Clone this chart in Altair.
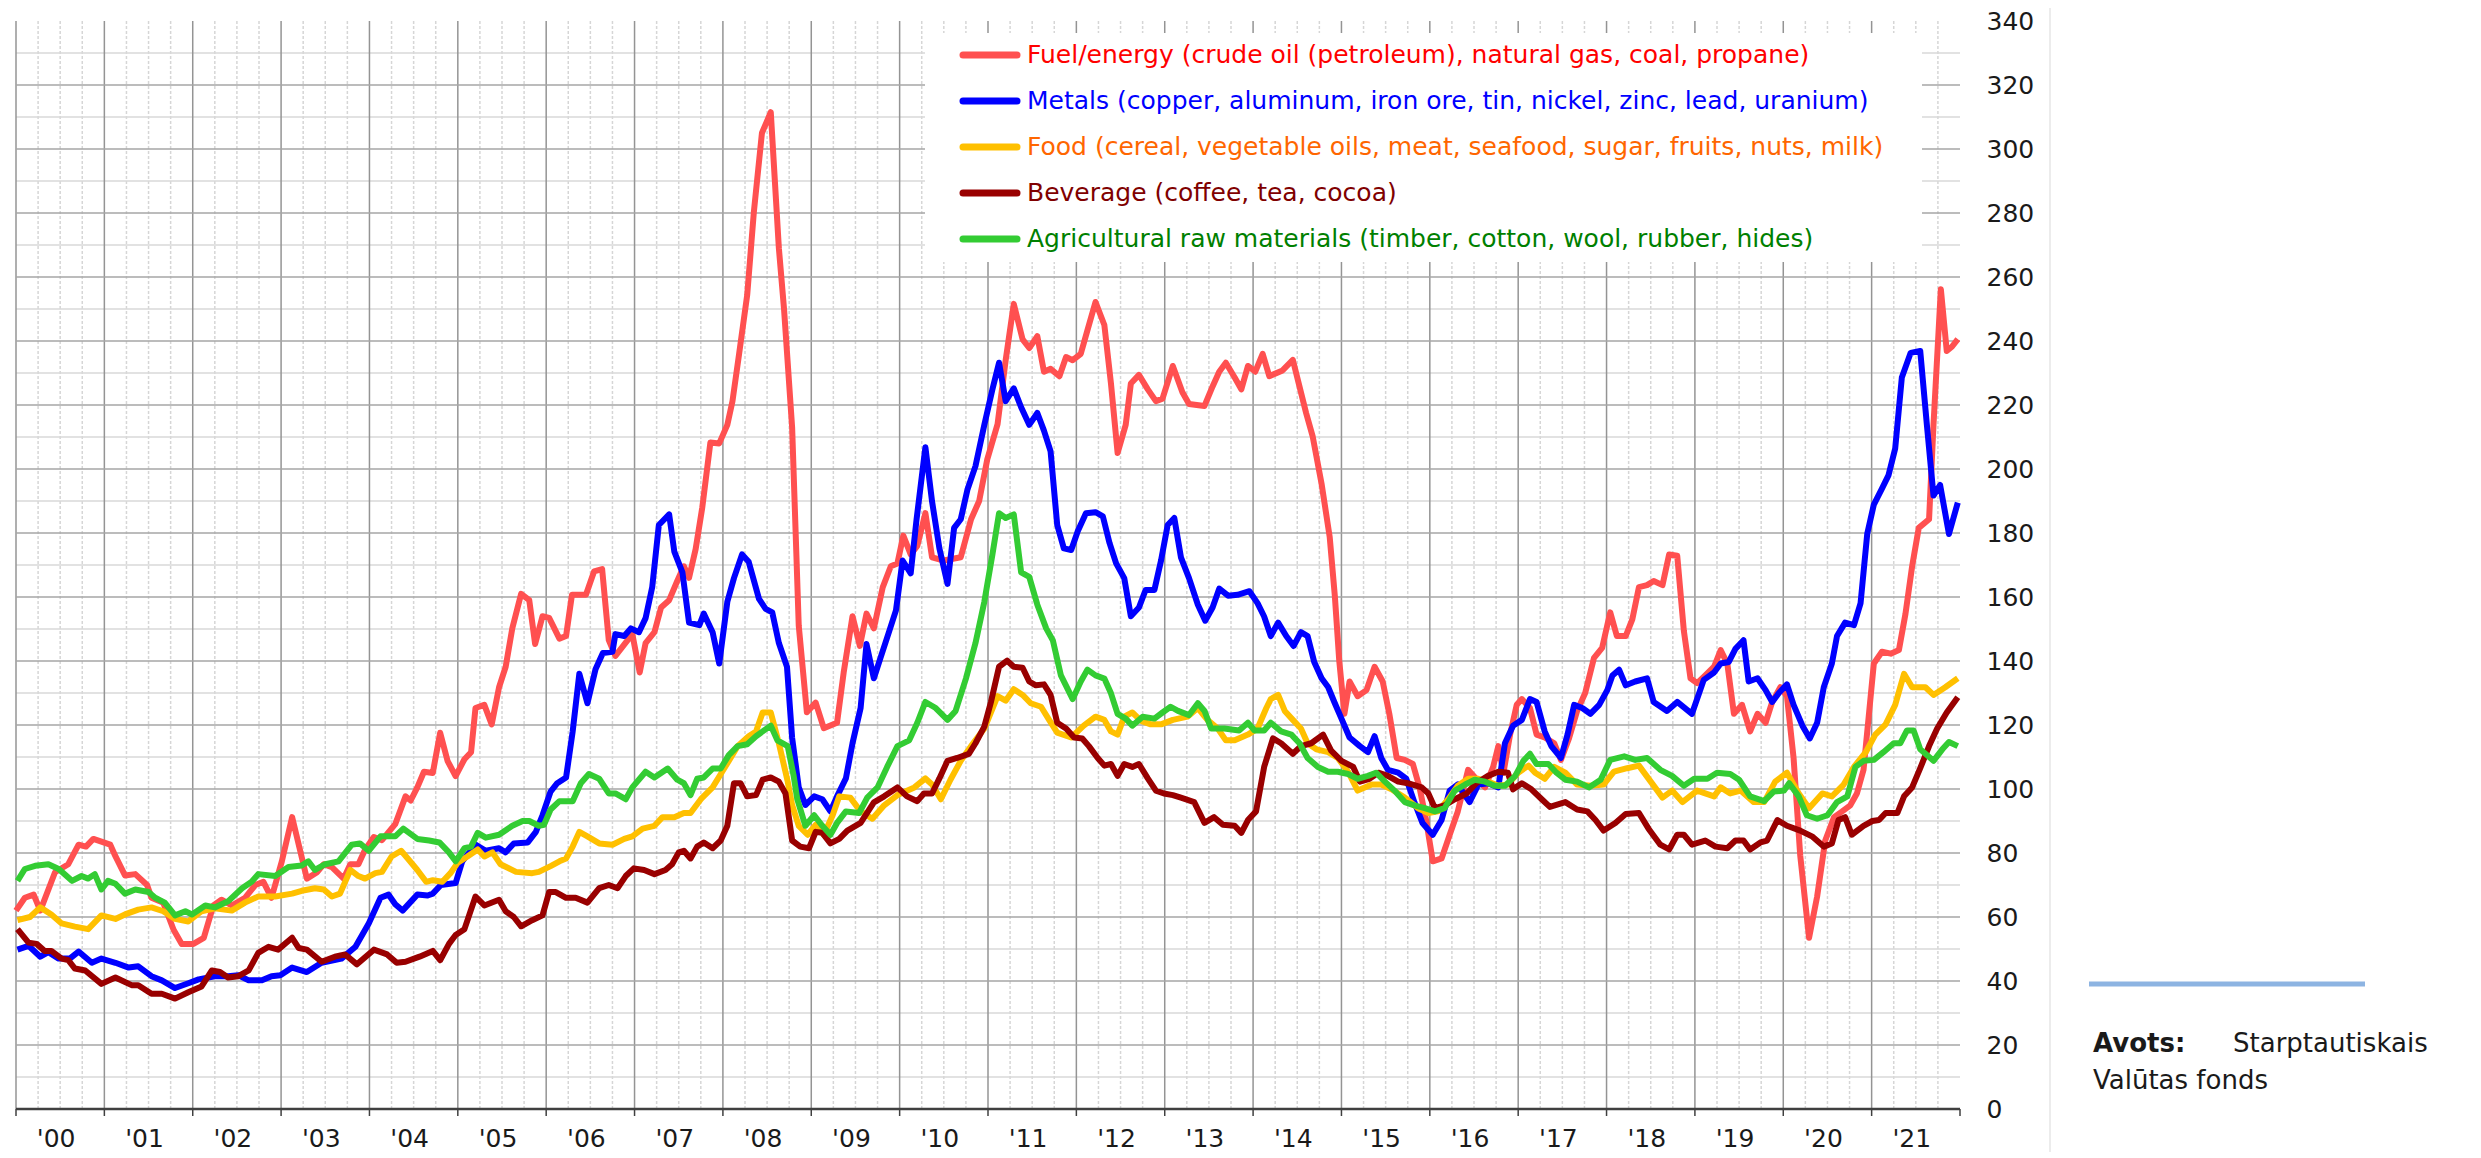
import altair as alt
import pandas as pd

# ---------------- data (month index: 0 = Jan 2000) ----------------
fuel_m = [0,1.2,2.4,3.3,5.3,7.1,8.5,9.5,10.5,12.8,13.5,14.8,16.2,17.8,18.4,20,21.4,22.5,24.1,25.5,26.8,27.9,29.3,31.1,32.5,33.6,34.7,36.1,37.5,39.5,40.9,41.8,42.9,44.5,45.4,46.5,47.4,48.6,49.7,51.5,52.9,53.6,54.5,55.4,56.6,57.6,58.6,59.7,60.9,61.8,62.4,63.6,64.6,65.6,66.5,67.4,68.6,69.7,70.5,71.5,72.4,73.8,74.7,75.5,77.4,78.5,79.6,80.5,81.4,83.7,84.7,85.5,86.7,87.6,88.7,89.8,90.7,91.4,92.3,93.2,94.3,95.5,96.6,97.3,98.2,99.3,100.2,101.3,102.5,103.6,104.3,105.4,106.3,107.4,108.6,109.7,111.5,112.4,113.6,114.6,115.5,116.5,117.7,118.8,119.7,120.5,121.5,122.4,123.5,124.4,126,128.3,129.7,130.8,131.9,133.3,134.4,135.5,136.7,137.6,138.7,139.6,140.5,141.7,142.6,143.5,144.6,145.5,146.6,147.8,148.7,149.6,150.7,151.4,152.5,153.7,154.8,155.7,157.1,158.4,159.3,161.4,162.5,163.4,164.3,165.5,166.4,167.3,168.3,169.3,170.2,172,173.4,174.3,175.2,176.1,177.3,178.4,179.1,179.7,180.4,181.1,182.2,183.4,184.5,185.6,186.5,187.5,188.6,189.7,190.6,191.5,192.4,193.6,194.7,195.8,197.2,198.3,199.5,200.6,201.3,202,202.9,203.8,204.5,205.6,206.5,207.6,208.9,209.8,210.9,212,213.1,214.3,215.4,216.5,217.4,218.6,219.5,220.4,221.5,222.4,223.6,224.5,225.6,226.5,227.4,228.3,229.4,230.6,231.5,232.4,233.3,234.4,235.5,236.5,237.6,238.5,239.6,240.5,241.4,242.3,243.5,244.6,245.7,246.9,248,249.1,250,250.9,251.6,252.3,253.4,254.6,255.7,256.6,257.5,258.4,259.8,260.4,261.4,262.2,262.9,263.7]
fuel_v = [62,66,67,62,74,76.5,82.6,82,84.4,82.6,79,73,73.4,70,66,64.5,56,51.6,51.6,53.5,63.6,65.4,63.6,66,70,71,66,77.4,91.2,72,74,76.5,75.6,72,76.5,76.5,81,85,84,89,97.7,96.4,100.5,105.4,105,117.6,108.8,104,109.3,111.5,125.3,126.3,120.2,131.8,138.2,150.2,161,159,145.3,154,153.5,147,147.8,160.7,160.7,168,168.7,146.5,141.6,148.4,136.4,145.6,149,156.7,159,165,169.6,166,175,188,208.3,208,213.8,221.2,236,254.4,280.2,305,311.5,269,250,213,151,124,127,119,120.7,136.4,154,144.7,154.8,150.2,163,169.6,170.5,179.2,173.3,176,186.2,172.4,171.4,172.4,184.3,190,203,214,234,251.6,240.5,237.8,241.5,230.4,231.3,229,235,234,236,243.3,252.2,245,226.7,205,213.8,226.7,229.4,224.9,221.2,222,232.2,224,220.3,219.7,225.8,230.4,233.2,228.6,224.9,232.2,230.4,236,229,230.8,234.1,225.8,217.5,210.1,195.4,178.8,160.4,140.1,123.5,133.6,129,130.9,138.2,133.6,123.5,109.7,109.1,107.8,100.5,90.3,77.4,78.3,85.7,93,106,103.2,100.5,106.9,113.4,105.1,117,126.3,128.1,125.3,117,116.1,114.3,109.1,115.8,124.4,130,141,144.1,155.2,147.8,147.8,153,163.1,163.7,165,163.7,173.3,172.9,149.4,134.6,133.1,135.5,138.2,143.4,139.2,123.5,126.3,118,123.5,120.7,127.2,131.8,129,109.7,79.3,53.5,66.4,83.9,91.2,93,94.9,98.6,106,122.6,139.2,142.9,142.3,143.4,154.8,169.6,181.6,184.3,213.8,256.2,236.9,238.2,240.6]

metals_m = [0.2,1.7,3.3,4.4,5.8,7.3,8.5,10.3,11.6,13.5,15.3,16.6,18.4,19.8,21.6,23.4,24.8,27,28.8,30.2,31.6,33.4,34.7,35.9,37.5,39.5,41.5,44.2,46.1,47.9,49.5,50.6,51.5,52.5,54.5,55.9,56.6,57.7,59.7,60.6,62.4,63.8,65.6,66.5,67.6,69.5,70.6,71.5,72.6,73.5,74.7,75.6,76.5,77.6,78.7,79.7,81,81.4,82.6,83.5,84.6,85.5,86.4,87.3,88.7,89.4,90.5,91.4,92.8,93.4,94.6,95.5,96.6,97.5,98.6,99.5,100.9,101.8,102.7,103.6,104.7,105.4,106.3,107.2,108.4,109.5,110.6,111.5,112.7,113.6,114.7,115.5,116.5,117.4,118.6,119.5,120.4,121.5,122.3,123.5,124.4,125.4,126.5,127.4,128.3,129.2,130.3,131.5,132.6,133.5,134.4,135.5,136.5,137.6,138.7,139.6,140.5,141.4,142.3,143.3,144.2,145.3,146.6,147.6,148.5,149.4,150.5,151.4,152.5,153.4,154.6,155.5,156.4,157.3,158.2,159.3,160.5,161.5,162.5,163.4,164.6,165.9,167.5,168.6,169.5,170.4,171.4,172.5,173.5,174.5,175.4,176.3,177.3,178.2,179.1,180,181.1,182.5,183.6,184.5,185.4,186.3,187.7,188.8,189.9,191,192.4,193.6,194.7,195.8,197.4,198.6,199.9,201.3,202.2,203.3,204.5,205.6,206.5,207.6,208.5,209.8,210.7,211.6,212.7,213.8,215,216.1,216.8,217.7,218.6,219.9,221.5,222.4,224.2,225.6,227.6,229.2,230.6,231.5,232.6,233.5,234.6,235.3,236.5,237.6,238.5,239.4,240.5,241.4,242.6,243.6,244.6,245.5,246.6,247.3,248.4,249.6,250.5,251.4,252.3,253.4,254.3,255.2,256.1,257.3,258.6,259.5,260.4,261.3,262.5,263.7]
metals_v = [49.8,51,47.6,49,47,47,49.2,45.7,47,45.7,44.2,44.6,41.5,40.2,37.8,39.3,40.5,41.5,41.5,41.8,40.2,40.2,41.5,41.8,44.2,42.8,45.7,47,50.7,58,66,67,64,62,67,66.7,67.3,70,70.6,77.4,82.6,80.7,81.5,80.2,83,83.3,86.6,91.8,99.2,101.8,103.6,118,136,126.8,137.4,142.5,142.9,148.4,147.8,150.2,149,153.4,163.1,182.5,185.8,174.2,167.7,152,151.2,154.8,149,139.2,158.5,165.9,173.3,171,159.4,156.3,155.2,145.6,138.2,116,100.5,95,97.7,96.8,93,97.7,103.3,114.3,125.3,145.3,134.6,141,149.4,155.8,171.4,167.4,184.3,206.8,189.9,175.2,164.1,181.6,184.3,193.5,200.9,213.8,224.9,233.2,221.2,225.2,219.3,213.8,217.5,212,205.5,182.5,175.2,174.7,180.6,186.2,186.5,185.2,176.9,170.5,165.9,154,156.7,162.2,162.2,171.4,182.5,184.7,172.4,165.9,157.6,152.6,156.7,162.6,160.4,160.7,161.8,158.1,153.9,147.8,152,147.8,144.7,149,147.8,139.7,134.6,131.8,126.8,122,116.1,113.4,111.5,116.5,109.7,106,105.1,103.2,95.9,89.4,85.7,90.3,99.5,101.4,95.9,101.4,101.8,100.5,114.3,119.8,121.6,128.1,127.2,118,113.4,109.7,117,126.3,125.3,123.5,126.3,130.9,135.5,137.3,132.4,133.6,134.6,127.2,124.4,127.2,123.5,134.1,136.4,139.2,139.7,143.8,146.5,133.6,134.6,130.9,127.2,130,132.7,126.3,119.8,115.8,120.7,131.8,139.2,147.8,152,151.2,158.1,179.7,188.9,193.9,198.1,206.4,228.6,236.3,236.9,213.8,191.7,195,179.7,189.5]

food_m = [0.2,1.9,3.3,4.8,6.2,8,9.8,11.6,13.5,14.8,16.6,18.4,20,21.6,23.4,25.2,27,29.3,31.1,32.9,35.2,37.5,38.8,40.6,41.8,42.9,44,45.4,46.5,47.4,48.8,49.7,51,52.3,53.2,54.5,55.7,56.6,57.9,59,60,61.3,62.7,63.6,64.7,65.8,67.9,70.1,71,72.6,73.8,74.7,75.6,76.5,77.6,79.2,81,82.6,83.7,85.1,86.7,87.8,89.4,90.7,91.6,93,94.6,95.9,96.8,98,99.5,100.5,101.4,102.5,103.6,104.8,105.4,106.3,107.5,108.6,109.7,110.9,111.8,113.3,114.7,116.3,117.9,119.7,122,123.5,124.4,125.6,126.9,128.3,129.7,131.5,133.3,134.4,135.5,136.7,137.8,139.2,140.3,141.4,143.3,145,146.6,147.8,148.7,149.6,150.5,151.6,152.8,154.1,155.5,157.1,159.1,160.5,161.8,163.2,164.3,165.5,167.3,168.6,169.8,170.4,171.4,172.3,173.4,174.5,175.4,176.6,178.2,179.5,180.9,182.2,184.1,185.4,186.8,188.6,190.4,191.8,193.1,194.5,195.8,197.2,198.6,199.9,201.3,202.6,204,205.4,206.3,207.6,208.9,210.4,212,213.8,215.6,217,218.8,220.4,222,223.6,224.9,226.3,228.3,230.6,231.5,232.8,234.2,236,237.4,238.9,240.5,242.1,243.5,245.3,246.6,248.2,249.6,251.2,252.5,253.9,255.2,256.4,257.5,259.3,260.4,262,263.7]
food_v = [59,60,63,60.8,58,57,56.2,60.5,59.4,60.8,62.3,63,61.8,59.4,58.6,61.8,62.7,62,64.5,66.4,66.4,67.3,68.2,69,68.6,66.4,67.3,74.7,72.8,72,73.7,74.1,78.9,80.7,78.3,74.7,71,71.5,71,73.7,77,78.9,81.1,78.9,80.2,76.5,74.1,73.7,74.1,75.9,77.4,78.3,82,86.6,85.2,83,82.6,84.4,85.2,87.6,88.5,91.2,91.2,92.5,92.5,96.8,100.5,105.4,108.8,113.4,116.5,118,123.9,123.9,114.3,102.3,95,88.5,85.7,88.8,85.7,91.8,97.7,97.3,93,90.7,94.9,98.1,100.5,103.3,101.4,96.8,102.9,108.8,113.4,118.9,129,127.6,131.2,129.4,126.8,125.7,121.6,117.6,116.1,119.8,122.6,121.6,118,117,122.6,123.9,121.3,120.2,120.2,121.6,122.6,125.3,121.6,118.9,115.2,115.2,117,118.9,125.3,128.1,129.4,124.4,121.6,118.9,114.3,112.4,111.5,109.7,105.4,99.5,101.4,101.4,99.9,97.3,94,92.5,93,96.8,101,103.2,103.2,102.3,101,101.4,105.1,107.3,105.1,103.2,106.9,105.1,101.4,101,101.4,105.4,106.5,107.3,102.3,97.3,99.5,95.9,99.5,97.7,100.5,98.6,99.5,95.9,95.9,102.3,105.1,98.6,94,98.6,97.7,101.4,106.9,111.5,117,120.2,126.3,136,131.8,131.8,129.4,131.8,134.6]

bev_m = [0.2,1.7,2.8,3.9,4.8,6.2,7.1,8,9.4,11.6,13.5,15.7,16.6,18.4,19.8,21.6,23.4,25.2,26.6,27.7,28.8,30.2,31.6,32.9,34.3,35.6,37.5,38.4,39.5,41.5,43.3,44.7,46.3,48.6,50.4,51.7,52.9,54.8,56.6,57.6,58.8,59.7,60.9,62.4,63.6,65.6,66.5,67.6,68.6,70.1,71.5,72.4,73.3,74.7,76,77.6,79.2,80.5,81.7,82.8,83.9,85.3,86.7,88.2,89.1,90,90.7,91.6,92.5,93.4,94.6,95.7,96.6,97.5,98.4,99.3,100.5,101.4,102.5,103.6,104.5,105.4,106.5,107.7,108.6,109.5,110.6,111.8,112.9,114.7,116.5,117.9,119.7,121,122.4,123.3,124.4,125.4,126.5,127.8,129.4,130.3,131.5,132.4,133.5,134.6,135.5,136.7,137.6,138.5,139.6,140.5,141.4,142.6,143.7,144.8,145.7,146.9,147.8,148.7,149.6,150.5,151.6,152.5,153.7,154.8,155.9,157.1,158.2,160,161.4,162.7,163.9,165.5,166.4,167.3,168.4,169.5,170.7,171.8,173.4,174.5,175.9,177.5,178.6,180,181.6,182.5,183.8,185,186.3,187.7,189,190.9,191.8,192.7,194,195.4,197,198.3,199.9,201.3,202.6,203.3,204.5,205.8,207.2,208.3,210.4,212,213.4,214.5,215.6,217.2,218.6,220.4,221.7,223.3,224.5,225.6,226.5,227.6,229.4,230.8,232.4,233.5,234.6,235.5,236.9,237.8,239.2,240.5,242.3,243.9,245.5,246.6,247.5,248.4,249.3,250.9,252.1,253,253.9,255.5,256.4,257.5,258.6,259.8,260.9,262.2,263.7]
bev_v = [56.2,52,51.6,49.4,49.4,47,46.5,43.9,43.3,39.1,41.1,38.7,38.7,36,36,34.5,36.5,38.3,43.3,42.8,41.1,41.5,43.3,48.8,50.7,49.8,53.5,50.3,49.8,46,47.6,48.3,45.2,49.8,48.3,45.7,46,47.6,49.4,46.5,51.6,54.4,56.2,66.4,63.6,65.4,61.8,60,57.1,59,60.5,67.8,67.8,66,66,64.5,69,70,69,72.8,75.2,74.7,73.4,74.7,76.5,80.2,80.7,78.3,82,83.3,81.5,83.9,88.5,101.8,101.8,97.7,98.1,102.9,103.6,102.3,98.6,83.9,82,81.5,86.6,86.3,83,84.4,87,89.4,95.8,97.7,100.5,97.7,96.2,98.6,98.6,103.3,108.8,109.7,111,114.3,119.5,127.2,138.2,140.1,138.2,137.9,133.6,132.4,132.7,129.4,120.7,118.9,116.1,115.8,113.4,109.7,107.3,107.8,104.1,107.8,106.9,107.8,103.3,99.5,98.6,98.1,97.3,95.9,89.4,91.2,88.8,88.5,86.3,90.3,93,106.9,115.8,114.3,111,113.4,114.3,117,112,108.8,106.9,102.3,103.2,105.1,104.1,102.3,101.8,100.5,98.6,94,94.9,96.8,98.6,101.8,104.1,105.4,105.1,99.9,101.8,99.9,96.8,94.4,95.9,93.6,93,90.3,87,89.4,92.2,92.5,87.6,82.6,81.1,85.7,85.7,82.6,83.9,82,81.5,83.9,83.9,81.1,83.3,83.9,90.3,88.5,87,85.2,82,83,90.3,91.2,85.7,88.5,90,90.3,92.5,92.5,97.7,100.5,106.5,113.4,118.9,123.9,128.7]

agri_m = [0.2,1.2,2.6,4.4,5.8,7.6,8.9,9.8,10.7,11.6,12.5,13.5,14.8,16.2,18,18.9,20.2,21.6,23,23.9,25.7,27,28.8,30.7,32,32.9,35.2,37,38.8,39.7,40.6,42,43.8,45.6,46.7,47.9,49.5,51.5,52.6,54.5,56.1,57.5,58.8,59.7,60.9,61.8,62.7,63.8,65.6,67.4,68.8,69.7,71,71.7,72.6,73.8,75.6,76.7,77.8,79.2,80.5,81.4,82.8,83.7,85.5,86.7,88.5,89.8,90.7,91.6,92.5,93.4,94.6,95.7,96.8,98,99.3,100.5,101.4,102.5,103.4,104.8,105.6,106.1,107.2,108.4,109.5,110.6,111.5,112.7,114.5,115.6,117,118.3,119.7,121.3,122.4,123.5,124.9,126.5,127.6,129,130.3,131.5,132.6,133.5,134.4,135.5,136.5,137.6,138.7,139.9,140.8,141.9,143.5,144.6,145.5,146.6,147.8,148.7,149.6,150.7,151.6,153,154.6,155.7,156.8,157.8,159.3,160.5,161.4,162.3,164.1,166.1,167.3,168.2,169.5,170.4,171.8,173.2,174.3,175.4,176.8,178.2,179.5,180.9,182.2,183.6,184.7,185.9,187.2,188.6,189.9,191.3,192.7,194,195.4,196.8,198.1,199.5,200.8,202.2,203.6,204.7,205.6,206.5,208.1,209.2,210.4,212,213.6,215.2,216.5,218.4,219.9,221.5,223.3,224.9,226.5,227.9,229.7,231,232.8,234,235.5,237.4,238.7,240.1,240.8,242.1,243.2,244.6,246,247.3,248.7,249.8,250.9,252.3,253.6,255,255.9,256.8,257.7,258.6,260.4,261.6,262.5,263.7]
agri_v = [71.3,75,76,76.5,75,71.3,72.8,72,73.4,68.6,71.3,70.4,67.3,68.6,67.8,66,64.5,60.5,61.8,60.8,63.6,63,64.9,69,71,73.4,72.8,75.6,76.1,77.4,74.7,76.5,77.4,82.6,83,80.7,85.2,85.2,87.6,84.4,83.9,83.3,80.2,77.4,81.5,82,86.3,84.8,85.7,88.5,90,90,88.5,88.8,93.6,96.2,96.2,101.8,104.7,103.2,98.6,98.6,96.8,100.5,105.4,103.6,106.4,102.9,101.8,98.1,103.2,103.6,106.4,106.4,110.6,113.4,114,116.5,118,119.8,115.2,113.4,104.2,96.8,88.5,91.8,88.5,85.7,89.4,93,92.5,97.3,100.5,106.9,113.4,115.2,120.7,127.2,125.3,121.6,124.4,134.5,145.6,158.5,173.3,186.2,184.7,185.8,167.7,166.3,157.6,150.2,146.5,135.5,128.1,133.6,137.3,135.5,134.5,129.9,123.5,122,119.8,122.6,122,123.9,125.7,124.4,123.1,126.8,124.4,118.9,118.9,118.3,120.7,118.3,118.3,120.7,118,117,114.3,109.7,106.9,105.4,105.4,104.7,103.2,104.1,105.1,102.3,99.5,95.9,94.9,94,93,94,99.5,101.4,102.9,102.3,101,101,104.1,108.8,111,107.8,107.8,105.1,102.9,102.3,100.5,102.9,109.1,110.2,109.1,109.7,106,104.1,101,103.2,103.2,105.1,104.7,102.9,97.7,96.2,99.2,99.5,101.8,97.7,91.8,90.7,91.8,95.9,97.7,106.9,108.8,109.1,111.5,114.3,114.3,118.3,118.3,112.4,108.8,112.4,114.7,113.4]

series_labels = [
    "Fuel/energy (crude oil (petroleum), natural gas, coal, propane)",
    "Metals (copper, aluminum, iron ore, tin, nickel, zinc, lead, uranium)",
    "Food (cereal, vegetable oils, meat, seafood, sugar, fruits, nuts, milk)",
    "Beverage (coffee, tea, cocoa)",
    "Agricultural raw materials (timber, cotton, wool, rubber, hides)",
]
line_colors = ["#ff5050", "#0000ff", "#ffc000", "#990000", "#33cc33"]
label_colors = ["#ff0000", "#0000ff", "#ff6600", "#800000", "#008000"]
year_labels = ["'%02d" % i for i in range(22)]
y_ticks = list(range(0, 341, 20))
source_bold = "Avots:"
source_line1 = "Starptautiskais"
source_line2 = "Valūtas fonds"

# ---------------- layout ----------------
W, H = 1944, 1088
FONT_AX = "DejaVu Sans"
FONT_LEG = "DejaVu Sans"

xs = alt.Scale(domain=[0, 264], nice=False, zero=False)
ys = alt.Scale(domain=[0, 340], nice=False)
y_axis = alt.Axis(orient="right", values=y_ticks, title=None, ticks=False, domain=False,
                  grid=False, labelFont=FONT_AX, labelFontSize=25, labelColor="#1a1a1a",
                  labelAlign="left", labelPadding=26, labelFlush=False, labelOverlap=False,
                  labelBaseline="middle")

def xenc(field):
    return alt.X(field, type="quantitative", scale=xs, axis=None)

def yenc(field):
    return alt.Y(field, type="quantitative", scale=ys, axis=y_axis)

quarters = [m for m in range(3, 264, 3) if m % 12 != 0]
years = list(range(0, 253, 12))
minor_h = list(range(10, 331, 20))
major_h = list(range(20, 321, 20))

grid_qv = alt.Chart(pd.DataFrame({"m": quarters})).mark_rule(
    color="#d6d6d6", strokeWidth=1.5, strokeDash=[3, 2]).encode(x=xenc("m"))
grid_mh = alt.Chart(pd.DataFrame({"v": minor_h})).mark_rule(
    color="#d9d9d9", strokeWidth=1.5).encode(y=yenc("v"))
grid_yv = alt.Chart(pd.DataFrame({"m": years})).mark_rule(
    color="#949494", strokeWidth=1.5).encode(x=xenc("m"))
grid_Mh = alt.Chart(pd.DataFrame({"v": major_h})).mark_rule(
    color="#a6a6a6", strokeWidth=1.5).encode(y=yenc("v"))
baseline = alt.Chart(pd.DataFrame({"v": [0]})).mark_rule(
    color="#404040", strokeWidth=2.5).encode(y=yenc("v"))
yticks = alt.Chart(pd.DataFrame({"m": list(range(0, 265, 12))})).mark_rule(
    color="#404040", strokeWidth=1.5).encode(x=xenc("m"), y=alt.value(H), y2=alt.value(H + 7))
xlabels = alt.Chart(pd.DataFrame({"m": [12 * i + 6 for i in range(22)], "t": year_labels})).mark_text(
    font=FONT_AX, fontSize=25, color="#1a1a1a", align="center", baseline="alphabetic", dx=-4
).encode(x=xenc("m"), y=alt.value(H + 38), text="t:N")

legend_box = alt.Chart(pd.DataFrame({"a": [0]})).mark_rect(color="white").encode(
    x=alt.value(909), x2=alt.value(1906), y=alt.value(12), y2=alt.value(241))

series = [(fuel_m, fuel_v), (metals_m, metals_v), (food_m, food_v), (bev_m, bev_v), (agri_m, agri_v)]
line_layers = []
for (mm, vv), col in zip(series, line_colors):
    df = pd.DataFrame({"m": mm, "v": vv})
    line_layers.append(alt.Chart(df).mark_line(color=col, strokeWidth=6, strokeJoin="round").encode(
        x=xenc("m"), y=yenc("v")))

leg_layers = []
for i, (lab, lc, tc) in enumerate(zip(series_labels, line_colors, label_colors)):
    yy = 34 + 46 * i
    d = pd.DataFrame({"t": [lab]})
    leg_layers.append(alt.Chart(d).mark_rule(color=lc, strokeWidth=7, strokeCap="round").encode(
        x=alt.value(947), x2=alt.value(1001), y=alt.value(yy)))
    leg_layers.append(alt.Chart(d).mark_text(font=FONT_LEG, fontSize=25, color=tc, align="left",
                                             baseline="middle").encode(
        x=alt.value(1011), y=alt.value(yy), text="t:N"))

d1 = pd.DataFrame({"a": [0]})
sep = alt.Chart(d1).mark_rule(color="#e6e6e6", strokeWidth=1.5).encode(
    x=alt.value(2034), y=alt.value(-13), y2=alt.value(H + 43))
src_rule = alt.Chart(d1).mark_rule(color="#8db4e2", strokeWidth=5).encode(
    x=alt.value(2073), x2=alt.value(2349), y=alt.value(963))
src_t1 = alt.Chart(pd.DataFrame({"t": [source_bold]})).mark_text(
    font=FONT_AX, fontSize=26, fontWeight="bold", color="#1a1a1a", align="left", baseline="alphabetic"
).encode(x=alt.value(2077), y=alt.value(1031), text="t:N")
src_t2 = alt.Chart(pd.DataFrame({"t": [source_line1]})).mark_text(
    font=FONT_AX, fontSize=26, color="#1a1a1a", align="left", baseline="alphabetic"
).encode(x=alt.value(2217), y=alt.value(1031), text="t:N")
src_t3 = alt.Chart(pd.DataFrame({"t": [source_line2]})).mark_text(
    font=FONT_AX, fontSize=26, color="#1a1a1a", align="left", baseline="alphabetic"
).encode(x=alt.value(2077), y=alt.value(1068), text="t:N")

chart = alt.layer(
    grid_qv, grid_mh, grid_yv, grid_Mh, legend_box, baseline, yticks, xlabels,
    *line_layers, *leg_layers, sep, src_rule, src_t1, src_t2, src_t3
).properties(
    width=W, height=H,
    autosize=alt.AutoSizeParams(type="none"),
    padding={"left": 8, "top": 13, "right": 500, "bottom": 45},
).configure_view(stroke=None)

chart.save("out.html", embed_options={"renderer": "svg", "actions": False})
